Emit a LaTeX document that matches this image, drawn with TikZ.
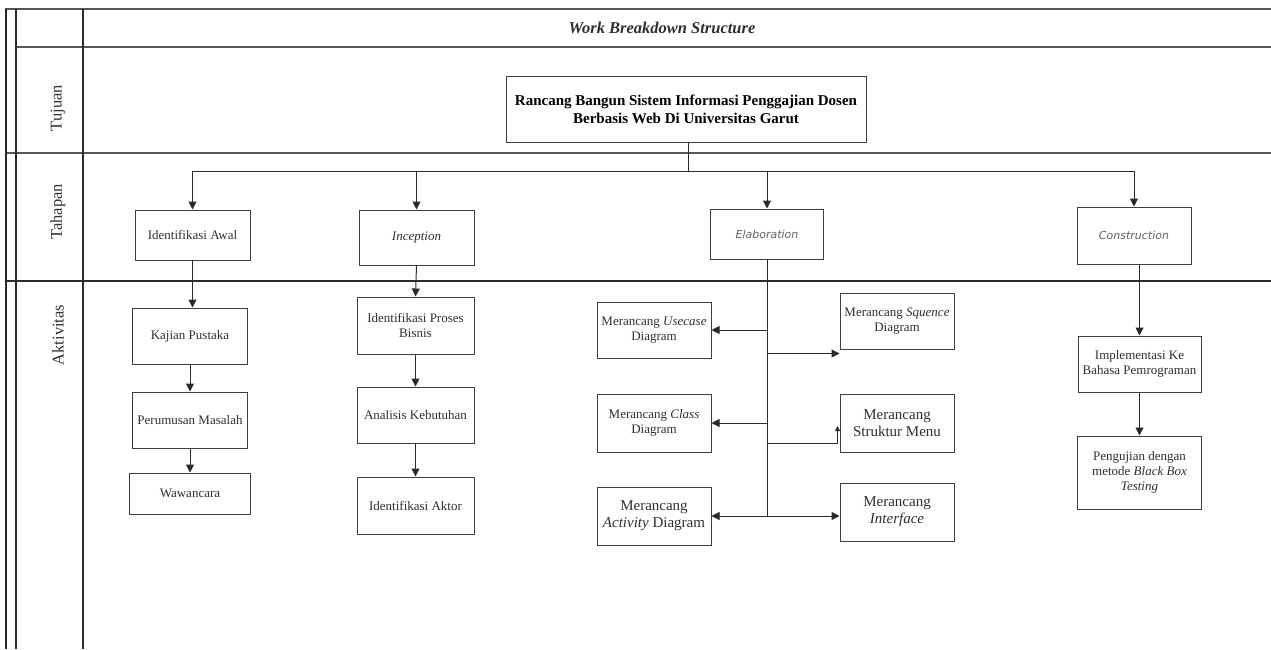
\documentclass[tikz,border=0pt]{standalone}
\usepackage{fontspec}
\setmainfont{Liberation Serif}
\newfontfamily\sansit{DejaVu Sans}
\usetikzlibrary{arrows.meta}
\definecolor{ln}{HTML}{2A2A2A}
\definecolor{tx}{HTML}{2E2E2E}
\tikzset{
  frame/.style={draw=ln, line width=1.1pt},
  framethick/.style={draw=ln!80, line width=1.8pt},
  box/.style={draw=ln!90, line width=1pt, rectangle, align=center, inner sep=1pt, text=tx, font=\fontsize{13}{15}\selectfont},
  bigbox/.style={box, font=\fontsize{15}{17}\selectfont},
  conn/.style={draw=ln, line width=1pt},
  arr/.style={conn, -{Triangle[length=8pt,width=8pt]}},
  rowlab/.style={rotate=90, text=tx, font=\fontsize{16.5}{18}\selectfont},
  sansbox/.style={box, font=\fontsize{11}{13}\sansit\itshape, text=black!62}
}
\begin{document}
\begin{tikzpicture}[x=1pt,y=-1pt]
\useasboundingbox (0,0) rectangle (1271,649);
% frame
\draw[framethick] (5,9) -- (1271,9);
\draw[framethick] (16,47) -- (1271,47);
\draw[framethick] (6,153) -- (1271,153);
\draw[frame] (6,281) -- (1271,281);
\draw[frame] (6,9) -- (6,649);
\draw[frame] (16,9) -- (16,649);
\draw[frame] (83,9) -- (83,649);
% header and row labels
\node[font=\fontsize{16.5}{18}\selectfont\bfseries\itshape, text=tx] (hdr) at (662,28) {Work Breakdown Structure};
\node[rowlab] (ltuj) at (58,108) {Tujuan};
\node[rowlab] (ltah) at (58,212) {Tahapan};
\node[rowlab] (lakt) at (58,335) {Aktivitas};
% main goal
\node[box, minimum width=360, minimum height=66, font=\fontsize{15}{18}\selectfont\bfseries, text=black] (mb) at (686,109) {Rancang Bangun Sistem Informasi Penggajian Dosen\\Berbasis Web Di Universitas Garut};
% Tahapan
\node[box, minimum width=115, minimum height=50] (ia) at (192.5,235) {Identifikasi Awal};
\node[box, minimum width=115, minimum height=55, font=\fontsize{13}{15}\selectfont\itshape] (inc) at (416.5,237.5) {Inception};
\node[sansbox, minimum width=113, minimum height=50] (el) at (767,234) {Elaboration};
\node[sansbox, minimum width=114, minimum height=57] (con) at (1134,235.5) {Construction};
% bus
\coordinate (bus) at (688,171);
\draw[conn] (mb.south -| bus) -- (bus);
\draw[conn] (ia.north |- bus) -- (con.north |- bus);
\draw[arr] (ia.north |- bus) -- (ia.north);
\draw[arr] (inc.north |- bus) -- (inc.north);
\draw[arr] (el.north |- bus) -- (el.north);
\draw[arr] (con.north |- bus) -- (con.north);
% column 1
\node[box, minimum width=115, minimum height=56] (ka) at (190,336) {Kajian Pustaka};
\node[box, minimum width=115, minimum height=56] (pm) at (190,420) {Perumusan Masalah};
\node[box, minimum width=121, minimum height=41] (wa) at (190,493.5) {Wawancara};
\draw[arr] (ia.south) -- (ia.south |- ka.north);
\draw[arr] (ka.south) -- (pm.north);
\draw[arr] (pm.south) -- (wa.north);
% column 2
\node[box, minimum width=117, minimum height=57] (ipb) at (415.5,325.5) {Identifikasi Proses\\Bisnis};
\node[box, minimum width=117, minimum height=56] (ak) at (415.5,415) {Analisis Kebutuhan};
\node[box, minimum width=117, minimum height=57] (iak) at (415.5,505.5) {Identifikasi Aktor};
\draw[arr] (inc.south) -- (ipb.north);
\draw[arr] (ipb.south) -- (ak.north);
\draw[arr] (ak.south) -- (iak.north);
% column 3
\node[box, minimum width=114, minimum height=56] (uc) at (654,330) {Merancang \textit{Usecase}\\Diagram};
\node[box, minimum width=114, minimum height=56] (sq) at (897,321) {Merancang \textit{Squence}\\Diagram};
\node[box, minimum width=114, minimum height=58] (cl) at (654,423) {Merancang \textit{Class}\\Diagram};
\node[bigbox, minimum width=114, minimum height=58] (sm) at (897,423) {Merancang\\Struktur Menu};
\node[bigbox, minimum width=114, minimum height=58] (ac) at (654,516) {Merancang\\\textit{Activity} Diagram};
\node[bigbox, minimum width=114, minimum height=58] (inf) at (897,512) {Merancang\\\textit{Interface}};
\coordinate (tend) at (el.south |- ac.east);
\draw[conn] (el.south) -- (tend);
\draw[arr] (el.south |- uc.east) -- (uc.east);
\coordinate (sqa) at ([yshift=-4pt]sq.south west);
\draw[arr] (el.south |- sqa) -- (sqa);
\draw[arr] (el.south |- cl.east) -- (cl.east);
\coordinate (sm1) at ([xshift=-2pt,yshift=-20pt]sm.west);
\coordinate (sm2) at ([xshift=-2pt,yshift=-3pt]sm.west);
\draw[conn] (el.south |- sm1) -- (sm1);
\draw[arr, -{Triangle[length=5pt,width=5pt]}] (sm1) -- (sm2);
\draw[arr] (tend) -- (ac.east);
\draw[arr] (tend) -- (inf.west |- tend);
% column 4
\node[box, minimum width=123, minimum height=56] (imp) at (1139.5,364) {Implementasi Ke\\Bahasa Pemrograman};
\node[box, minimum width=124, minimum height=73] (pj) at (1139.5,472.5) {Pengujian dengan\\metode \textit{Black Box}\\\textit{Testing}};
\draw[arr] (imp.north |- con.south) -- (imp.north);
\draw[arr] (imp.south) -- (pj.north);
\end{tikzpicture}
\end{document}
